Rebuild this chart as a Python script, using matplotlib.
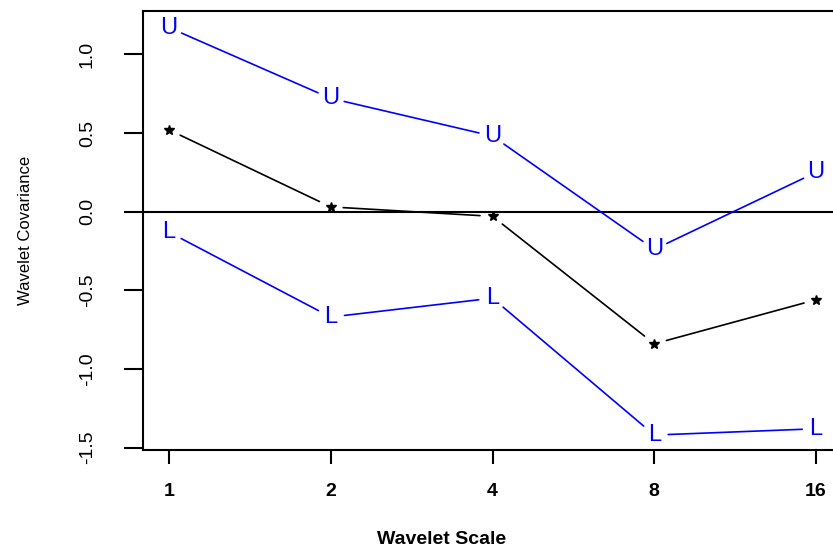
import matplotlib
matplotlib.use("Agg")
import matplotlib.pyplot as plt

scale_labels = ["1", "2", "4", "8", "16"]
xpos = [1, 2, 3, 4, 5]
upper = [1.17, 0.72, 0.48, -0.24, 0.25]
estimate = [0.52, 0.03, -0.03, -0.84, -0.56]
lower = [-0.13, -0.67, -0.55, -1.42, -1.38]

plt.rcParams['font.family'] = ['Liberation Sans', 'DejaVu Sans']

fig = plt.figure(figsize=(8.33, 5.53), dpi=100)
ax = fig.add_axes([143 / 833, 1 - 450 / 553, (842 - 143) / 833, (450 - 11) / 553])
ax.set_xlim(0.84, 5.16)
ax.set_ylim(-1.515, 1.275)


def draw_series(ys, char, color, gap, size):
    # R type="b": lines with gaps around the plotting characters
    for i in range(len(xpos) - 1):
        ax.annotate("", xy=(xpos[i + 1], ys[i + 1]), xytext=(xpos[i], ys[i]),
                    arrowprops=dict(arrowstyle="-", color=color, lw=1.2,
                                    shrinkA=gap, shrinkB=gap))
    for x, y in zip(xpos, ys):
        if char == "*":
            ax.plot(x, y, marker="*", color=color, markersize=size, linestyle="none")
        else:
            ax.text(x, y, char, color=color, fontsize=size, ha="center",
                    va="center")


draw_series(upper, "U", "#0000ff", 10, 17)
draw_series(lower, "L", "#0000ff", 10, 17)
draw_series(estimate, "*", "black", 9, 7)

ax.axhline(0, color="black", lw=1.5)

ax.set_xticks(xpos)
ax.set_xticklabels(scale_labels, fontsize=14, fontweight="bold")
ax.set_yticks([-1.5, -1.0, -0.5, 0.0, 0.5, 1.0])
ax.set_yticklabels(["-1.5", "-1.0", "-0.5", "0.0", "0.5", "1.0"], fontsize=14,
                   rotation=90, va="center")
ax.tick_params(axis="x", length=10, width=1.5, pad=14)
ax.tick_params(axis="y", length=14, width=1.5, pad=20)
for s in ax.spines.values():
    s.set_linewidth(1.5)

fig.text(0.53, 1 - 540 / 553, "Wavelet Scale", ha="center", va="center",
         fontsize=14, fontweight="bold")
fig.text(26 / 833, 1 - 230 / 553, "Wavelet Covariance", ha="center", va="center",
         fontsize=12, rotation=90)

fig.savefig("out.png", dpi=100)
